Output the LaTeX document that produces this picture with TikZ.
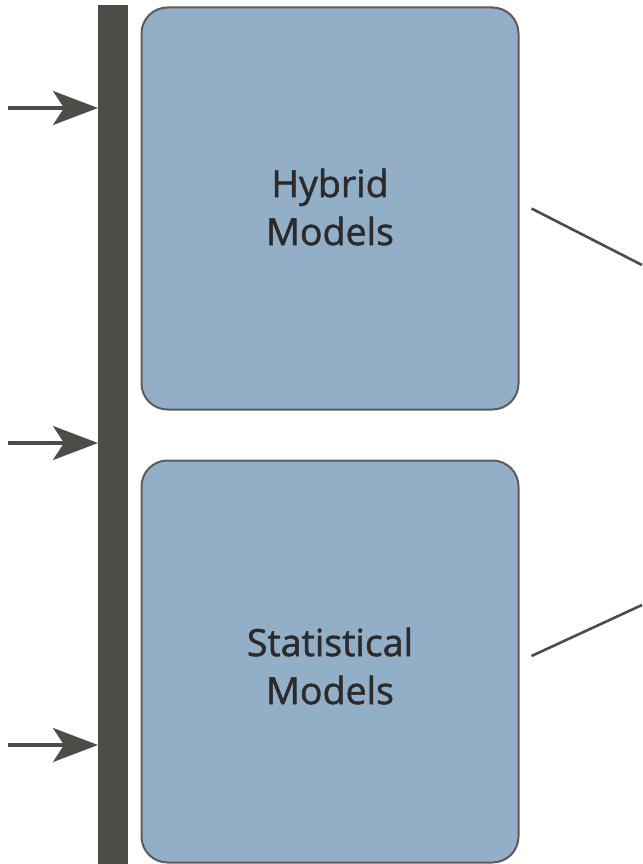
\documentclass[tikz,border=0pt]{standalone}
\usepackage{fontspec}
\setmainfont{Open Sans}
\font\labelface="Open Sans:embolden=1.4" at 37.5pt
\newcommand{\labelstyle}{\labelface\setlength{\baselineskip}{48pt}\relax}
\usetikzlibrary{arrows.meta}
\definecolor{boxfill}{HTML}{93AFC7}
\definecolor{boxline}{HTML}{5C5C5C}
\definecolor{barcol}{HTML}{4D4D47}
\definecolor{txt}{HTML}{2B2B2B}
\begin{document}
\begin{tikzpicture}[x=1pt,y=-1pt,
  modelbox/.style={draw=boxline,line width=2pt,fill=boxfill,rounded corners=26pt,
    minimum width=377pt,minimum height=402pt,inner sep=0pt},
  modeltext/.style={font=\labelstyle,text=txt,align=center,inner sep=0pt},
  inarrow/.style={draw=barcol,line width=3.2pt,-{Stealth[length=45pt,width=34pt,inset=11pt]}},
  outline/.style={draw=barcol,line width=2.6pt}]
\useasboundingbox (0,0) rectangle (642,864);
\fill[barcol] (98,5) rectangle (128,864);
\coordinate (bar1) at (98,108);
\coordinate (bar2) at (98,443);
\coordinate (bar3) at (98,745);
\coordinate (in1) at (8,108);
\coordinate (in2) at (8,443);
\coordinate (in3) at (8,745);
\draw[inarrow] (in1) -- (bar1);
\draw[inarrow] (in2) -- (bar2);
\draw[inarrow] (in3) -- (bar3);
\node[modelbox] (hyb) at (330,208.5) {};
\node[modelbox] (stat) at (330,661.5) {};
\node[modeltext] (hybtext) at (330,207) {Hybrid\\Models};
\node[modeltext] (stattext) at (330,666) {Statistical\\Models};
\coordinate (o1) at (642,265);
\coordinate (o2) at (642,605);
\draw[outline] ([xshift=12pt]hyb.east) -- (o1);
\draw[outline] ([xshift=12pt,yshift=5.5pt]stat.east) -- (o2);
\end{tikzpicture}
\end{document}
